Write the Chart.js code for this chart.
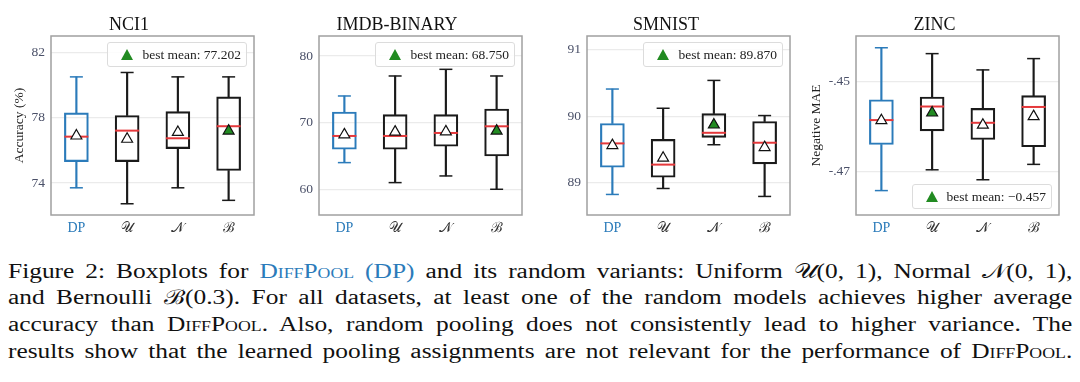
<!DOCTYPE html>
<html><head><meta charset="utf-8">
<script src="https://cdn.jsdelivr.net/npm/chart.js@4.4.1/dist/chart.umd.min.js"></script>
<style>
body{margin:0;width:1080px;height:382px;background:#fff;position:relative;overflow:hidden;font-family:"Liberation Serif","DejaVu Serif",serif}
.panel{position:absolute;top:0;width:268px;height:240px}
.legend{position:absolute;height:25px;border:1px solid #dcdcdc;border-radius:3px;background:rgba(255,255,255,0.85);font-size:13.5px;color:#222;display:flex;align-items:center;box-sizing:border-box;padding-right:5px;white-space:nowrap}
.tri{width:0;height:0;border-left:6px solid transparent;border-right:6px solid transparent;border-bottom:11px solid #228b22;margin-left:13px;margin-right:9px}
#caption{position:absolute;left:8px;top:257.5px;width:838px;font-size:20px;line-height:26.8px;color:#111;transform:scaleX(1.27);transform-origin:0 0}
#caption div{text-align:justify;text-align-last:justify;white-space:nowrap}
.sc{font-variant:small-caps}
.blue{color:#2b7bba}
</style></head>
<body>
<div class="panel" style="left:0px"><canvas id="c0" width="268" height="240"></canvas></div>
<div class="panel" style="left:268px"><canvas id="c1" width="268" height="240"></canvas></div>
<div class="panel" style="left:536px"><canvas id="c2" width="268" height="240"></canvas></div>
<div class="panel" style="left:805px"><canvas id="c3" width="268" height="240"></canvas></div>
<div id="caption">
<div>Figure 2: Boxplots for <span class="blue"><span class="sc">DiffPool</span> (DP)</span> and its random variants: Uniform 𝒰(0, 1), Normal 𝒩(0, 1),</div>
<div>and Bernoulli ℬ(0.3). For all datasets, at least one of the random models achieves higher average</div>
<div>accuracy than <span class="sc">DiffPool</span>. Also, random pooling does not consistently lead to higher variance. The</div>
<div>results show that the learned pooling assignments are not relevant for the performance of <span class="sc">DiffPool</span>.</div>
</div>
<script>
const categories = ['DP', '𝒰', '𝒩', 'ℬ'];

const nci1Min    = [73.71, 72.73, 73.71, 72.94];
const nci1Q1     = [75.32, 75.32, 76.12, 74.77];
const nci1Median = [76.85, 77.22, 76.75, 77.49];
const nci1Q3     = [78.31, 78.15, 78.39, 79.29];
const nci1Max    = [80.52, 80.79, 80.52, 80.52];
const nci1Mean   = [76.90, 76.70, 77.12, 77.202];
const nci1Ticks  = [74, 78, 82];
const nci1TickLabels = ['74', '78', '82'];

const imdbMin    = [64, 61, 62, 60];
const imdbQ1     = [66, 66, 66.45, 65];
const imdbMedian = [68, 68, 68.45, 69.45];
const imdbQ3     = [71.6, 71.2, 71.2, 72.05];
const imdbMax    = [74, 77, 78, 77];
const imdbMean   = [68.2, 68.6, 68.65, 68.75];
const imdbTicks  = [60, 70, 80];
const imdbTickLabels = ['60', '70', '80'];

const smnistMin    = [88.82, 88.91, 89.57, 88.79];
const smnistQ1     = [89.23, 89.08, 89.68, 89.28];
const smnistMedian = [89.59, 89.27, 89.75, 89.60];
const smnistQ3     = [89.89, 89.65, 90.04, 89.92];
const smnistMax    = [90.41, 90.12, 90.54, 90.01];
const smnistMean   = [89.56, 89.37, 89.87, 89.53];
const smnistTicks  = [89, 90, 91];
const smnistTickLabels = ['89', '90', '91'];

const zincMin    = [-0.4742, -0.4696, -0.4718, -0.4684];
const zincQ1     = [-0.4640, -0.4610, -0.4629, -0.4645];
const zincMedian = [-0.4586, -0.4556, -0.4592, -0.4557];
const zincQ3     = [-0.4541, -0.4535, -0.4560, -0.4532];
const zincMax    = [-0.4426, -0.4439, -0.4475, -0.4450];
const zincMean   = [-0.4587, -0.4570, -0.4597, -0.4578];
const zincTicks  = [-0.47, -0.45];
const zincTickLabels = ['-.47', '-.45'];

const BLUE = '#2b7bba', BLACK = '#1a1a1a', RED = '#e5383b', GREEN = '#228b22';
const FONT = '"Liberation Serif","DejaVu Serif",serif';

const framePlugin = {
  id: 'frame',
  beforeDatasetsDraw(chart) {
    const {ctx, chartArea: a} = chart;
    ctx.save();
    ctx.strokeStyle = '#a0a0a0';
    ctx.lineWidth = 1.5;
    ctx.strokeRect(a.left, a.top, a.right - a.left, a.bottom - a.top);
    ctx.restore();
  }
};

function makePanel(id, title, yTitle, yMin, yMax, ticks, tickLabels, mn, q1, med, q3, mx, mean, areaW, legendBottom, yTitlePad) {
  const colors = categories.map((c, i) => i === 0 ? BLUE : BLACK);
  const best = mean.indexOf(Math.max(...mean));
  const chart = new Chart(document.getElementById(id), {
    type: 'bar',
    data: {
      labels: categories,
      datasets: [
        {type: 'line', label: 'mean', data: mean, showLine: false, pointStyle: 'triangle', pointRadius: 6.3,
         pointBackgroundColor: mean.map((v, i) => i === best ? GREEN : '#ffffff'), pointBorderColor: '#111', pointBorderWidth: 1.2, order: 0},
        {type: 'line', label: 'median', data: med, showLine: false, pointStyle: 'line', pointRadius: 12,
         pointBorderColor: RED, pointBorderWidth: 2, order: 1},
        {type: 'line', label: 'cap max', data: mx, showLine: false, pointStyle: 'line', pointRadius: 6.5,
         pointBorderColor: colors, pointBorderWidth: 1.5, order: 2},
        {type: 'line', label: 'cap min', data: mn, showLine: false, pointStyle: 'line', pointRadius: 6.5,
         pointBorderColor: colors, pointBorderWidth: 1.5, order: 2},
        {type: 'bar', label: 'box', data: q1.map((v, i) => [v, q3[i]]), backgroundColor: 'rgba(0,0,0,0)',
         borderColor: colors, borderWidth: 1.5, borderSkipped: false, barThickness: 24, grouped: false, order: 3},
        {type: 'bar', label: 'upper whisker', data: q3.map((v, i) => [v, mx[i]]), backgroundColor: colors,
         borderWidth: 0, barThickness: 1.5, grouped: false, order: 4},
        {type: 'bar', label: 'lower whisker', data: mn.map((v, i) => [v, q1[i]]), backgroundColor: colors,
         borderWidth: 0, barThickness: 1.5, grouped: false, order: 4}
      ]
    },
    options: {
      responsive: false, animation: false, events: [],
      layout: {padding: {left: 0, right: 268 - 51 - areaW, top: 0, bottom: 0}},
      plugins: {
        legend: {display: false}, tooltip: {enabled: false},
        title: {display: true, text: title, color: '#111', font: {family: FONT, size: 18, weight: 'normal'}, padding: {top: 14, bottom: 0.4}}
      },
      scales: {
        x: {
          offset: true,
          grid: {display: false, drawTicks: false}, border: {display: false},
          ticks: {padding: 5, color: c => c.index === 0 ? BLUE : '#333', font: {family: FONT, size: 14}},
          afterFit: s => { s.height = 25; }
        },
        y: {
          min: yMin, max: yMax,
          afterBuildTicks: s => { s.ticks = ticks.map(v => ({value: v})); },
          afterFit: s => { s.width = 51; },
          grid: {color: '#ebebeb', drawTicks: false, lineWidth: 1.2}, border: {display: false},
          ticks: {padding: 6, color: '#4a5068', font: {family: FONT, size: 13.5}, callback: (v, i) => tickLabels[i]},
          title: {display: !!yTitle, text: yTitle, color: '#222', font: {family: FONT, size: 13.5}, padding: {top: yTitlePad, bottom: 0}}
        }
      }
    },
    plugins: [framePlugin]
  });
  const a = chart.chartArea;
  const panel = document.getElementById(id).parentNode;
  const lg = document.createElement('div');
  lg.className = 'legend';
  const val = mean[best].toFixed(3).replace('-', '\u2212');
  lg.innerHTML = '<div class="tri"></div><span>best mean: ' + val + '</span>';
  panel.appendChild(lg);
  lg.style.right = (268 - a.right + 7) + 'px';
  if (legendBottom) lg.style.top = (a.bottom - 6 - 25) + 'px';
  else lg.style.top = (a.top + 6) + 'px';
}

makePanel('c0', 'NCI1', 'Accuracy (%)', 72.04, 83.03, nci1Ticks, nci1TickLabels, nci1Min, nci1Q1, nci1Median, nci1Q3, nci1Max, nci1Mean, 207, false, 11.5);
makePanel('c1', 'IMDB-BINARY', '', 56.14, 83.0, imdbTicks, imdbTickLabels, imdbMin, imdbQ1, imdbMedian, imdbQ3, imdbMax, imdbMean, 207, false, 0);
makePanel('c2', 'SMNIST', '', 88.51, 91.21, smnistTicks, smnistTickLabels, smnistMin, smnistQ1, smnistMedian, smnistQ3, smnistMax, smnistMean, 209, false, 0);
makePanel('c3', 'ZINC', 'Negative MAE', -0.4796, -0.44, zincTicks, zincTickLabels, zincMin, zincQ1, zincMedian, zincQ3, zincMax, zincMean, 208, true, 3.5);
</script>
</body></html>
